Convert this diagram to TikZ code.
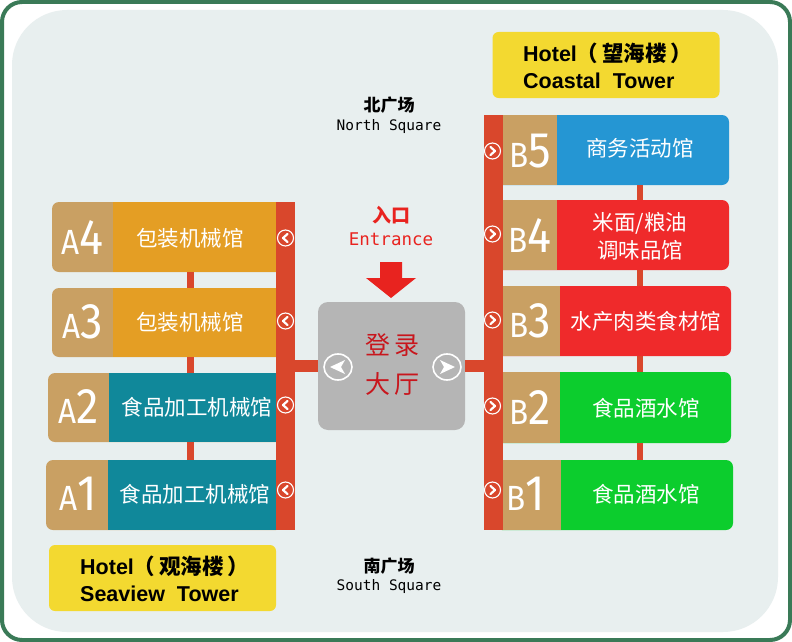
\documentclass[tikz,border=0pt]{standalone}
\usepackage{fontspec}
\setmainfont{Liberation Sans}
\newfontfamily\cjk{Noto Sans CJK SC}
\newfontfamily\monof{DejaVu Sans Mono}
\newfontfamily\labfont[FakeStretch=0.9]{Fira Sans}
\usetikzlibrary{shapes.geometric}
\definecolor{borderc}{HTML}{3A7A57}
\definecolor{panelc}{HTML}{E8EFEF}
\definecolor{tanc}{HTML}{C9A063}
\definecolor{orangec}{HTML}{E49E24}
\definecolor{tealc}{HTML}{10889A}
\definecolor{bluec}{HTML}{2596D3}
\definecolor{redc}{HTML}{EF2A2B}
\definecolor{greenc}{HTML}{0CCD2D}
\definecolor{barc}{HTML}{D9472C}
\definecolor{grayc}{HTML}{B5B5B5}
\definecolor{yellowc}{HTML}{F3D930}
\definecolor{lobbyred}{HTML}{C8161D}
\definecolor{arrowc}{HTML}{E8231F}
\tikzset{
  box/.style={rectangle, inner sep=0, outer sep=0, rounded corners=7},
  zh/.style={text=white, font=\cjk\fontsize{21.5}{28}\selectfont, inner sep=0, align=center},
  lab/.style={text=white, font=\labfont, inner sep=0},
  link/.style={draw=barc, line width=7},
  hlink/.style={draw=barc, line width=12},
  bullet/.style={circle, draw=white, line width=1.1, minimum size=16, inner sep=0},
  chev/.style={white, line width=2.2, line cap=round, line join=round},
  lobbull/.style={ellipse, draw=white, line width=1.6, minimum width=28, minimum height=26, inner sep=0},
  hotel/.style={fill=yellowc, rounded corners=6, inner sep=0, minimum width=227, minimum height=66},
  hoteltext/.style={anchor=west, inner sep=0, align=left, font=\bfseries\fontsize{21.5}{27}\selectfont},
  bar/.style={fill=barc, inner sep=0, outer sep=0},
}
\newcommand\AL[2]{{\fontsize{35}{35}\selectfont #1}{\fontsize{50}{50}\selectfont #2}}
\begin{document}
\begin{tikzpicture}[x=1pt,y=-1pt]
\useasboundingbox (0,0) rectangle (792,642);
\fill[white, draw=borderc, line width=4, rounded corners=20] (2,2) rectangle (790,640);
\fill[panelc, rounded corners=55] (12,10) rectangle (778,632);

% ---- A column boxes
\node[box, fill=tanc, minimum width=231, minimum height=70] (a4) at (167.5,237) {};
\fill[orangec] (113,202) rectangle (283,272);
\node[box, fill=tanc, minimum width=231, minimum height=69] (a3) at (167.5,322.5) {};
\fill[orangec] (113,288) rectangle (283,357);
\node[box, fill=tanc, minimum width=235, minimum height=69] (a2) at (165.5,407.5) {};
\fill[tealc] (109,373) rectangle (283,442);
\node[box, fill=tanc, minimum width=237, minimum height=70] (a1) at (164.5,495) {};
\fill[tealc] (108,460) rectangle (283,530);

% ---- B column boxes
\node[box, fill=bluec, minimum width=234, minimum height=70] (b5) at (612,150) {};
\fill[tanc] (495,115) rectangle (557,185);
\node[box, fill=redc, minimum width=234, minimum height=70] (b4) at (612,235) {};
\fill[tanc] (495,200) rectangle (557,270);
\node[box, fill=redc, minimum width=236, minimum height=70] (b3) at (613,321) {};
\fill[tanc] (495,286) rectangle (560,356);
\node[box, fill=greenc, minimum width=236, minimum height=71] (b2) at (613,407.5) {};
\fill[tanc] (495,372) rectangle (560,443);
\node[box, fill=greenc, minimum width=238, minimum height=70] (b1) at (614,495) {};
\fill[tanc] (495,460) rectangle (561,530);

% ---- bars
\node[bar, minimum width=19, minimum height=328] (lbar) at (285.5,366) {};
\node[bar, minimum width=19, minimum height=415] (rbar) at (493.5,322.5) {};

% ---- texts
\node[zh] (a4t) at (190,238) {包装机械馆};
\node[zh] (a3t) at (190,322) {包装机械馆};
\node[zh] (a2t) at (197,407) {食品加工机械馆};
\node[zh] (a1t) at (195,494) {食品加工机械馆};
\node[zh] (b5t) at (640,148) {商务活动馆};
\node[zh] (b4t) at (640,236) {米面/粮油\\调味品馆};
\node[zh] (b3t) at (646,321) {水产肉类食材馆};
\node[zh] (b2t) at (646,408) {食品酒水馆};
\node[zh] (b1t) at (646,494) {食品酒水馆};

\node[lab] (a4l) at (82,238) {\AL{A}{4}};
\node[lab] (a3l) at (83,322) {\AL{A}{3}};
\node[lab] (a2l) at (79,407) {\AL{A}{2}};
\node[lab] (a1l) at (78,494) {\AL{A}{1}};
\node[lab] (b5l) at (530,151) {\AL{B}{5}};
\node[lab] (b4l) at (530,236) {\AL{B}{4}};
\node[lab] (b3l) at (530,321) {\AL{B}{3}};
\node[lab] (b2l) at (530,408) {\AL{B}{2}};
\node[lab] (b1l) at (526,494) {\AL{B}{1}};

% ---- small links
\draw[link] (a4.south -| a4t) -- (a3.north -| a4t);
\draw[link] (a3.south -| a4t) -- (a2.north -| a4t);
\draw[link] (a2.south -| a4t) -- (a1.north -| a4t);
\draw[link, line width=6] (b5.south -| b5t) -- (b4.north -| b5t);
\draw[link, line width=6] (b4.south -| b5t) -- (b3.north -| b5t);
\draw[link, line width=6] (b3.south -| b5t) -- (b2.north -| b5t);
\draw[link, line width=6] (b2.south -| b5t) -- (b1.north -| b5t);

% ---- bar bullets
\foreach \n/\y in {ca4/238, ca3/321, ca2/405, ca1/490}{
  \node[bullet] (\n) at (285.5,\y) {};
  \draw[chev] (\n) ++(2,-4) -- ++(-4.5,4) -- ++(4.5,4);
}
\foreach \n/\y in {cb5/151, cb4/234, cb3/320, cb2/406, cb1/490}{
  \node[bullet] (\n) at (492.5,\y) {};
  \draw[chev] (\n) ++(-2,-4) -- ++(4.5,4) -- ++(-4.5,4);
}

% ---- lobby
\node[fill=grayc, rounded corners=10, minimum width=147, minimum height=128, inner sep=0] (lobby) at (391.5,366) {};
\draw[hlink] (lobby.west) -- (lbar.east |- lobby.west);
\draw[hlink] (lobby.east) -- (rbar.west |- lobby.east);
\node[text=lobbyred, font=\cjk\fontsize{25}{39}\selectfont, align=center, inner sep=0] (lobbyt) at (392,364) {登\hspace{4pt}录\\大\hspace{4pt}厅};
\node[lobbull] (lobl) at (338,367) {};
\fill[white] (lobl) ++(7,-7) -- ++(-15,7) -- ++(15,7) -- ++(-4,-7) -- cycle;
\node[lobbull] (lobr) at (447,367) {};
\fill[white] (lobr) ++(-7,-7) -- ++(15,7) -- ++(-15,7) -- ++(4,-7) -- cycle;

% ---- entrance
\node[text=arrowc, font=\cjk\bfseries\fontsize{19}{19}\selectfont, inner sep=0] (ent) at (391,215) {入口};
\node[text=arrowc, font=\monof\fontsize{17.5}{17.5}\selectfont, inner sep=0] (ente) at (391,239) {Entrance};
\fill[arrowc] (380,262) -- (402,262) -- (402,278) -- (416,278) -- (391,298) -- (366,278) -- (380,278) -- cycle;

% ---- squares
\node[font=\cjk\bfseries\fontsize{17}{17}\selectfont, inner sep=0] (north) at (389,105) {北广场};
\node[font=\monof\fontsize{14.5}{14.5}\selectfont, inner sep=0] (northe) at (389,127) {North Square};
\node[font=\cjk\bfseries\fontsize{17}{17}\selectfont, inner sep=0] (south) at (389,566) {南广场};
\node[font=\monof\fontsize{14.5}{14.5}\selectfont, inner sep=0] (southe) at (389,587) {South Square};

% ---- hotels
\node[hotel] (hc) at (606,65) {};
\node[hoteltext] (hct) at (523,66) {Hotel{\cjk\bfseries （\,望海楼\,）}\\Coastal\ \ Tower};
\node[hotel] (hs) at (162.5,578) {};
\node[hoteltext] (hst) at (80,579) {Hotel{\cjk\bfseries （\,观海楼\,）}\\Seaview\ \ Tower};
\end{tikzpicture}
\end{document}
